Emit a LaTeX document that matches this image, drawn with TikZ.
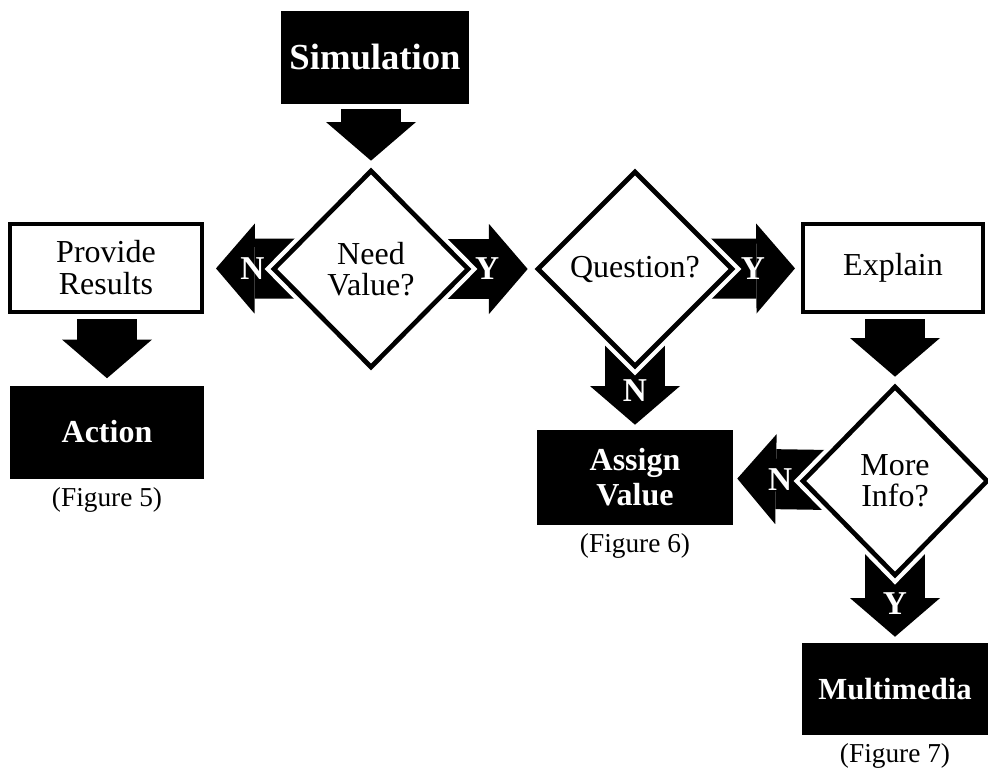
\documentclass[tikz,border=0pt]{standalone}
\usepackage{fontspec}
\setmainfont{Liberation Serif}
\usetikzlibrary{shapes.geometric, arrows.meta, positioning}
\pgfdeclarelayer{back}
\pgfsetlayers{back,main}

\begin{document}
\begin{tikzpicture}[x=0.75pt, y=-0.75pt,
  box/.style = {draw, line width=3pt, fill=white, align=center, inner sep=0pt, font=\fontsize{24}{24}\selectfont},
  dark/.style = {fill=black, text=white, align=center, inner sep=0pt, font=\bfseries\fontsize{24}{26}\selectfont},
  ask/.style = {diamond, draw, line width=3.5pt, fill=white, inner sep=0pt, align=center, font=\fontsize{24}{23}\selectfont, preaction={draw=white, line width=10pt}},
  fig/.style = {inner sep=0pt, font=\fontsize{20.5}{22}\selectfont},
  blk/.style = {line width=45pt, -{Triangle[width=67.5pt, length=29pt, line width=0pt]}},
  yn/.style = {pos=0.71, text=white, font=\bfseries\fontsize{25}{25}\selectfont}]

\useasboundingbox (0,0) rectangle (988,771);

% boxes
\node[dark, minimum width=141pt, minimum height=69.75pt, font=\bfseries\fontsize{27.5}{28}\selectfont] (sim) at (375,57) {Simulation};
\node[box, minimum width=144pt, minimum height=66pt] (provide) at (106,268) {Provide\\Results};
\node[dark, minimum width=145.5pt, minimum height=69.75pt] (action) at (107,432) {Action};
\node[box, minimum width=135pt, minimum height=66pt] (explain) at (893,268) {Explain};
\node[dark, minimum width=147pt, minimum height=71.25pt] (assign) at (635,477) {Assign\\Value};
\node[dark, minimum width=139.5pt, minimum height=69pt, font=\bfseries\fontsize{23}{26}\selectfont] (multi) at (895,689) {Multimedia};

% decisions
\node[ask, minimum width=147pt, minimum height=148.5pt] (need) at (371,269) {Need\\Value?};
\node[ask, minimum width=147pt, minimum height=147pt] (question) at (635,269) {Question?};
\node[ask, minimum width=139.5pt, minimum height=142.5pt] (more) at (895,481) {More\\Info?};

% captions
\node[fig, below=6pt of action] (fig5) {(Figure 5)};
\node[fig, below=6pt of assign] (fig6) {(Figure 6)};
\node[fig, below=6pt of multi] (fig7) {(Figure 7)};

% block arrows
\begin{pgfonlayer}{back}
\draw[blk, shorten <=3.75pt, shorten >=5.25pt] (sim.south -| need.north) -- (need.north);
\draw[blk, shorten <=3.75pt, shorten >=5.25pt] (provide.south -| action.north) -- (action.north);
\draw[blk, shorten <=3.75pt, shorten >=5.25pt] (explain.south -| more.north) -- (more.north);
\draw[blk, shorten >=9pt] (need.center) -- (provide) node[yn] {N};
\draw[blk, shorten >=5.25pt] (need.center) -- (question) node[yn] {Y};
\draw[blk, shorten >=4.5pt] (question.center) -- (explain) node[yn] {Y};
\draw[blk, shorten >=3.4pt] (question.center) -- (assign) node[yn, pos=0.76] {N};
\draw[blk, shorten >=3pt] (more.center) -- (assign) node[yn] {N};
\draw[blk, shorten >=4.5pt] (more.center) -- (multi) node[yn, pos=0.76] {Y};
\end{pgfonlayer}

\end{tikzpicture}
\end{document}
